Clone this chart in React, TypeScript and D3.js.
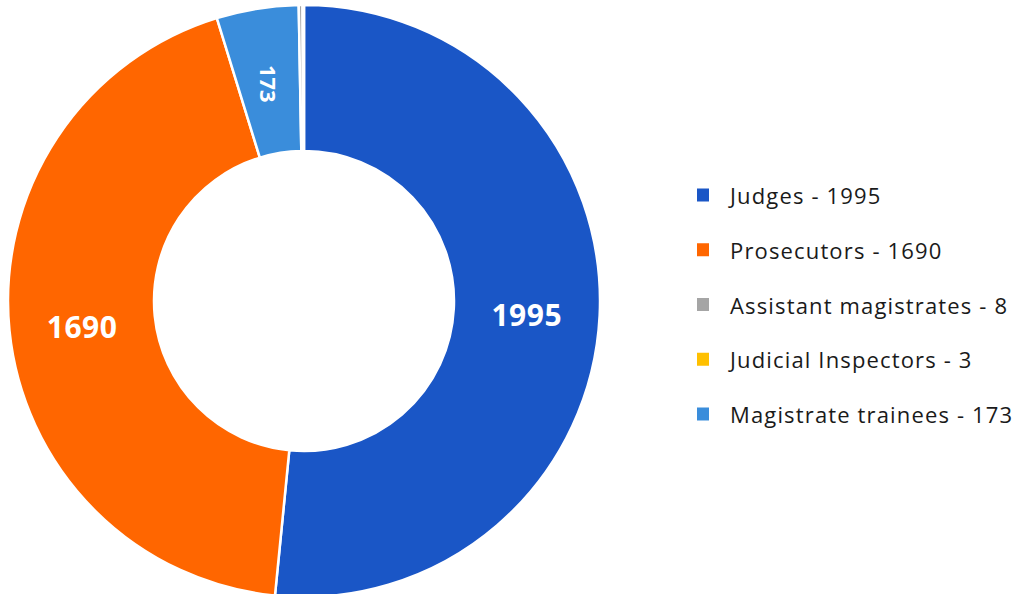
import React from "react";
import * as d3 from "d3";

const categories = ["Judges", "Prosecutors", "Assistant magistrates", "Judicial Inspectors", "Magistrate trainees"];
const values = [1995, 1690, 8, 3, 173];
const colors = ["#1a56c6", "#ff6600", "#a5a5a5", "#ffc000", "#3a8ddb"];
// drawing order around the ring (clockwise from 12 o'clock)
const drawOrder = [0, 1, 4, 2, 3];
const labelMin = 100;

export default function App() {
  const W = 1018, H = 594;
  const cx = 304, cy = 301, rOuter = 296, rInner = 150;
  const items = drawOrder.map((i) => ({ i, v: values[i] }));
  const pie = d3.pie<any>().sort(null).value((d) => d.v);
  const arcs = pie(items);
  const arcGen = d3.arc<any>().innerRadius(rInner).outerRadius(rOuter);
  const midR = (rInner + rOuter) / 2;
  const legendY = d3.scaleLinear().domain([0, categories.length - 1]).range([195, 414]);
  const font = "'Open Sans', Lato, sans-serif";
  return (
    <svg width={W} height={H} style={{ position: "absolute", left: 0, top: 0, background: "#fff" }}>
      <g transform={`translate(${cx},${cy})`}>
        {arcs.map((a, k) => (
          <path key={k} d={arcGen(a) as string} fill={colors[a.data.i]} stroke="#fff" strokeWidth={2.5} />
        ))}
        {arcs.map((a, k) => {
          if (a.data.v < labelMin) return null;
          const mid = (a.startAngle + a.endAngle) / 2;
          const x = Math.sin(mid) * midR;
          const y = -Math.cos(mid) * midR;
          const small = a.endAngle - a.startAngle < 0.5;
          return (
            <text
              key={"l" + k}
              transform={`translate(${x},${y + (small ? 3 : 3)}) rotate(${small ? 90 : 0})`}
              textAnchor="middle"
              dominantBaseline="central"
              fill="#fff"
              fontFamily={font}
              fontWeight="bold"
              fontSize={small ? 22 : 30}
              letterSpacing={small ? 0 : 0.5}
            >
              {a.data.v}
            </text>
          );
        })}
      </g>
      <g>
        {categories.map((c, i) => (
          <g key={c} transform={`translate(697,${legendY(i)})`}>
            <rect x={0} y={-6.5} width={12} height={13} fill={colors[i]} />
            <text x={33} y={0} dominantBaseline="central" fontFamily={font} fontSize={22} letterSpacing={1.15} fill="#1a1a1a">
              {`${c} - ${values[i]}`}
            </text>
          </g>
        ))}
      </g>
    </svg>
  );
}
